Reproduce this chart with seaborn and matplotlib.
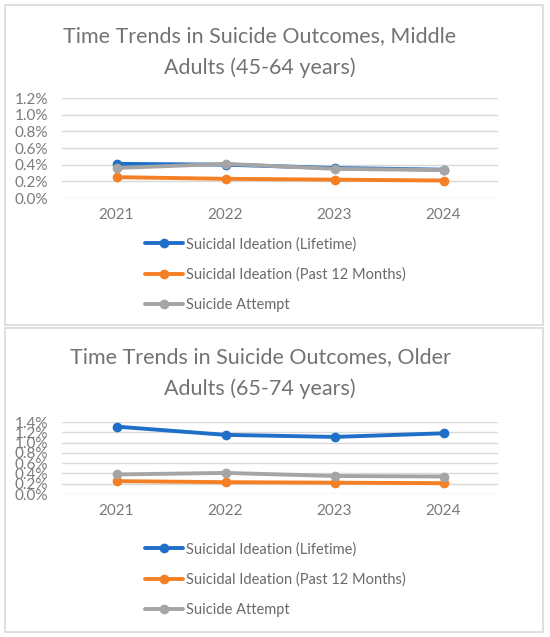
import pandas as pd
import seaborn as sns
import matplotlib.pyplot as plt
from matplotlib.patches import Rectangle
from matplotlib.ticker import FuncFormatter

# data (percent)
years = ["2021", "2022", "2023", "2024"]
series_names = ["Suicidal Ideation (Lifetime)",
                "Suicidal Ideation (Past 12 Months)",
                "Suicide Attempt"]

middle_lifetime = [0.41, 0.40, 0.36, 0.34]
middle_past12 = [0.25, 0.23, 0.22, 0.21]
middle_attempt = [0.36, 0.41, 0.35, 0.335]

older_lifetime = [1.31, 1.15, 1.11, 1.18]
older_past12 = [0.25, 0.23, 0.22, 0.21]
older_attempt = [0.38, 0.41, 0.35, 0.34]

colors = ["#1f6fc8", "#f57f24", "#a5a5a5"]
title_col = "#737373"
tick_col = "#7a7a7a"
legend_col = "#6a6a6a"

sns.set_theme(style="white")
plt.rcParams["font.family"] = ["Lato", "DejaVu Sans"]

W, H = 550, 637
fig = plt.figure(figsize=(W / 100, H / 100), dpi=100)


def px_rect(x0, y0, x1, y1):
    # pixel box (top-left origin) -> figure fraction
    return [x0 / W, 1 - y1 / H, (x1 - x0) / W, (y1 - y0) / H]


def make_df(vals):
    rows = []
    for name, v in zip(series_names, vals):
        for yr, val in zip(years, v):
            rows.append({"year": yr, "value": val, "series": name})
    return pd.DataFrame(rows)


def panel(box, plot_box, title, title_y, vals, ymax, legend_y):
    # panel frame
    x0, y0, x1, y1 = box
    fig.patches.append(Rectangle((x0 / W, 1 - y1 / H), (x1 - x0) / W, (y1 - y0) / H,
                                 transform=fig.transFigure, fill=False,
                                 edgecolor="#d9d9d9", lw=1.2))
    fig.text(260 / W, 1 - title_y / H, title, ha="center", va="center",
             fontsize=15.5, color=title_col, linespacing=1.7)

    ax = fig.add_axes(px_rect(*plot_box))
    df = make_df(vals)
    sns.lineplot(data=df, x="year", y="value", hue="series", palette=colors,
                 marker="o", markersize=7, markeredgewidth=0, lw=2.8,
                 sort=False, ax=ax, clip_on=False)
    ax.set_xlim(-0.5, 3.5)
    ax.set_ylim(0, ymax)
    ax.set_yticks([i * 0.2 for i in range(int(round(ymax / 0.2)) + 1)])
    ax.yaxis.set_major_formatter(FuncFormatter(lambda v, p: f"{v:.1f}%"))
    ax.grid(axis="y", color="#d9d9d9", lw=1)
    ax.grid(axis="x", visible=False)
    for s in ax.spines.values():
        s.set_visible(False)
    ax.tick_params(axis="y", labelsize=11, colors=tick_col, length=0, pad=10)
    ax.tick_params(axis="x", labelsize=11, colors=tick_col, length=0, pad=7)
    ax.set_xlabel("")
    ax.set_ylabel("")
    leg = ax.legend(loc="upper left", bbox_to_anchor=(145 / W, 1 - legend_y / H),
                    bbox_transform=fig.transFigure, frameon=False, fontsize=10.5,
                    handlelength=2.6, handletextpad=0.2, labelspacing=1.1,
                    borderpad=0, borderaxespad=0)
    for t in leg.get_texts():
        t.set_color(legend_col)
    return ax


panel((5, 5, 543, 325), (62, 98, 498, 198),
      "Time Trends in Suicide Outcomes, Middle\nAdults (45-64 years)", 52,
      [middle_lifetime, middle_past12, middle_attempt], 1.2, 237)

panel((5, 328, 543, 632), (62, 422, 498, 494),
      "Time Trends in Suicide Outcomes, Older\nAdults (65-74 years)", 373,
      [older_lifetime, older_past12, older_attempt], 1.4, 542)

fig.savefig("out.png", dpi=100, facecolor="white")
